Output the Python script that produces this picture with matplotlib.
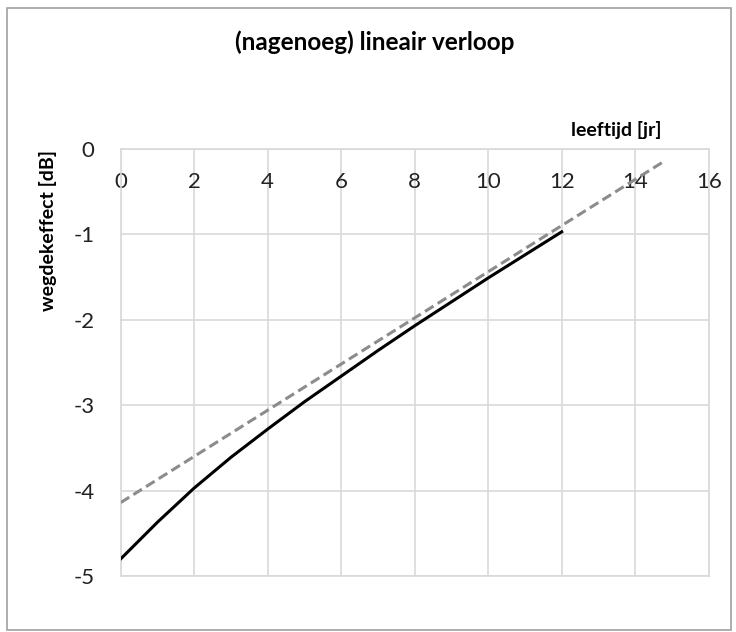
import matplotlib.pyplot as plt
from matplotlib.patches import Rectangle

# data
age = [0, 1, 2, 3, 4, 5, 6, 7, 8, 9, 10, 11, 12]
effect = [-4.80, -4.37, -3.97, -3.61, -3.28, -2.96, -2.66, -2.36, -2.07, -1.79, -1.51, -1.24, -0.97]
lin_age = [0, 14.8]
lin_effect = [-4.14, -0.14]
xticks = [0, 2, 4, 6, 8, 10, 12, 14, 16]
yticks = [0, -1, -2, -3, -4, -5]

plt.rcParams['font.family'] = ['Lato', 'DejaVu Sans']
plt.rcParams['axes.unicode_minus'] = False

fig = plt.figure(figsize=(7.36, 6.32), dpi=100)
ax = fig.add_axes([120.7/736, 1-576/632, 588/736, 427/632])

grid_c = '#d9d9d9'
ax.plot(age, effect, color='black', lw=2.2, solid_joinstyle='round', zorder=3)
ax.plot(lin_age, lin_effect, color='#8c8c8c', lw=2.2, dashes=(3.3, 1.6), zorder=3)

ax.set_xlim(0, 16)
ax.set_ylim(-5, 0)
ax.set_xticks(xticks)
ax.set_yticks(yticks)
ax.grid(True, color=grid_c, lw=1.2)
ax.set_axisbelow(True)
for s in ax.spines.values():
    s.set_color(grid_c)
    s.set_linewidth(1.2)

ax.xaxis.set_ticks_position('top')
ax.tick_params(axis='x', length=0, pad=-31, labelsize=16, colors='#222222')
ax.tick_params(axis='y', length=0, pad=19, labelsize=16, colors='#222222')

ax.xaxis.set_label_position('top')
ax.set_xlabel('leeftijd [jr]', fontsize=14, fontweight='bold')
ax.xaxis.set_label_coords(0.842, 1.031)
ax.set_ylabel('wegdekeffect [dB]', fontsize=14, fontweight='bold')
ax.yaxis.set_label_coords(-0.108, 0.81)

fig.text(375/736, 1-42/632, '(nagenoeg) lineair verloop', ha='center', va='center',
         fontsize=17.5, fontweight='bold')

fig.patches.append(Rectangle((7/736, 2/632), 724/736, 622/632, transform=fig.transFigure,
                             fill=False, edgecolor='#a0a0a0', lw=1.2))

fig.savefig('out.png', dpi=100)
